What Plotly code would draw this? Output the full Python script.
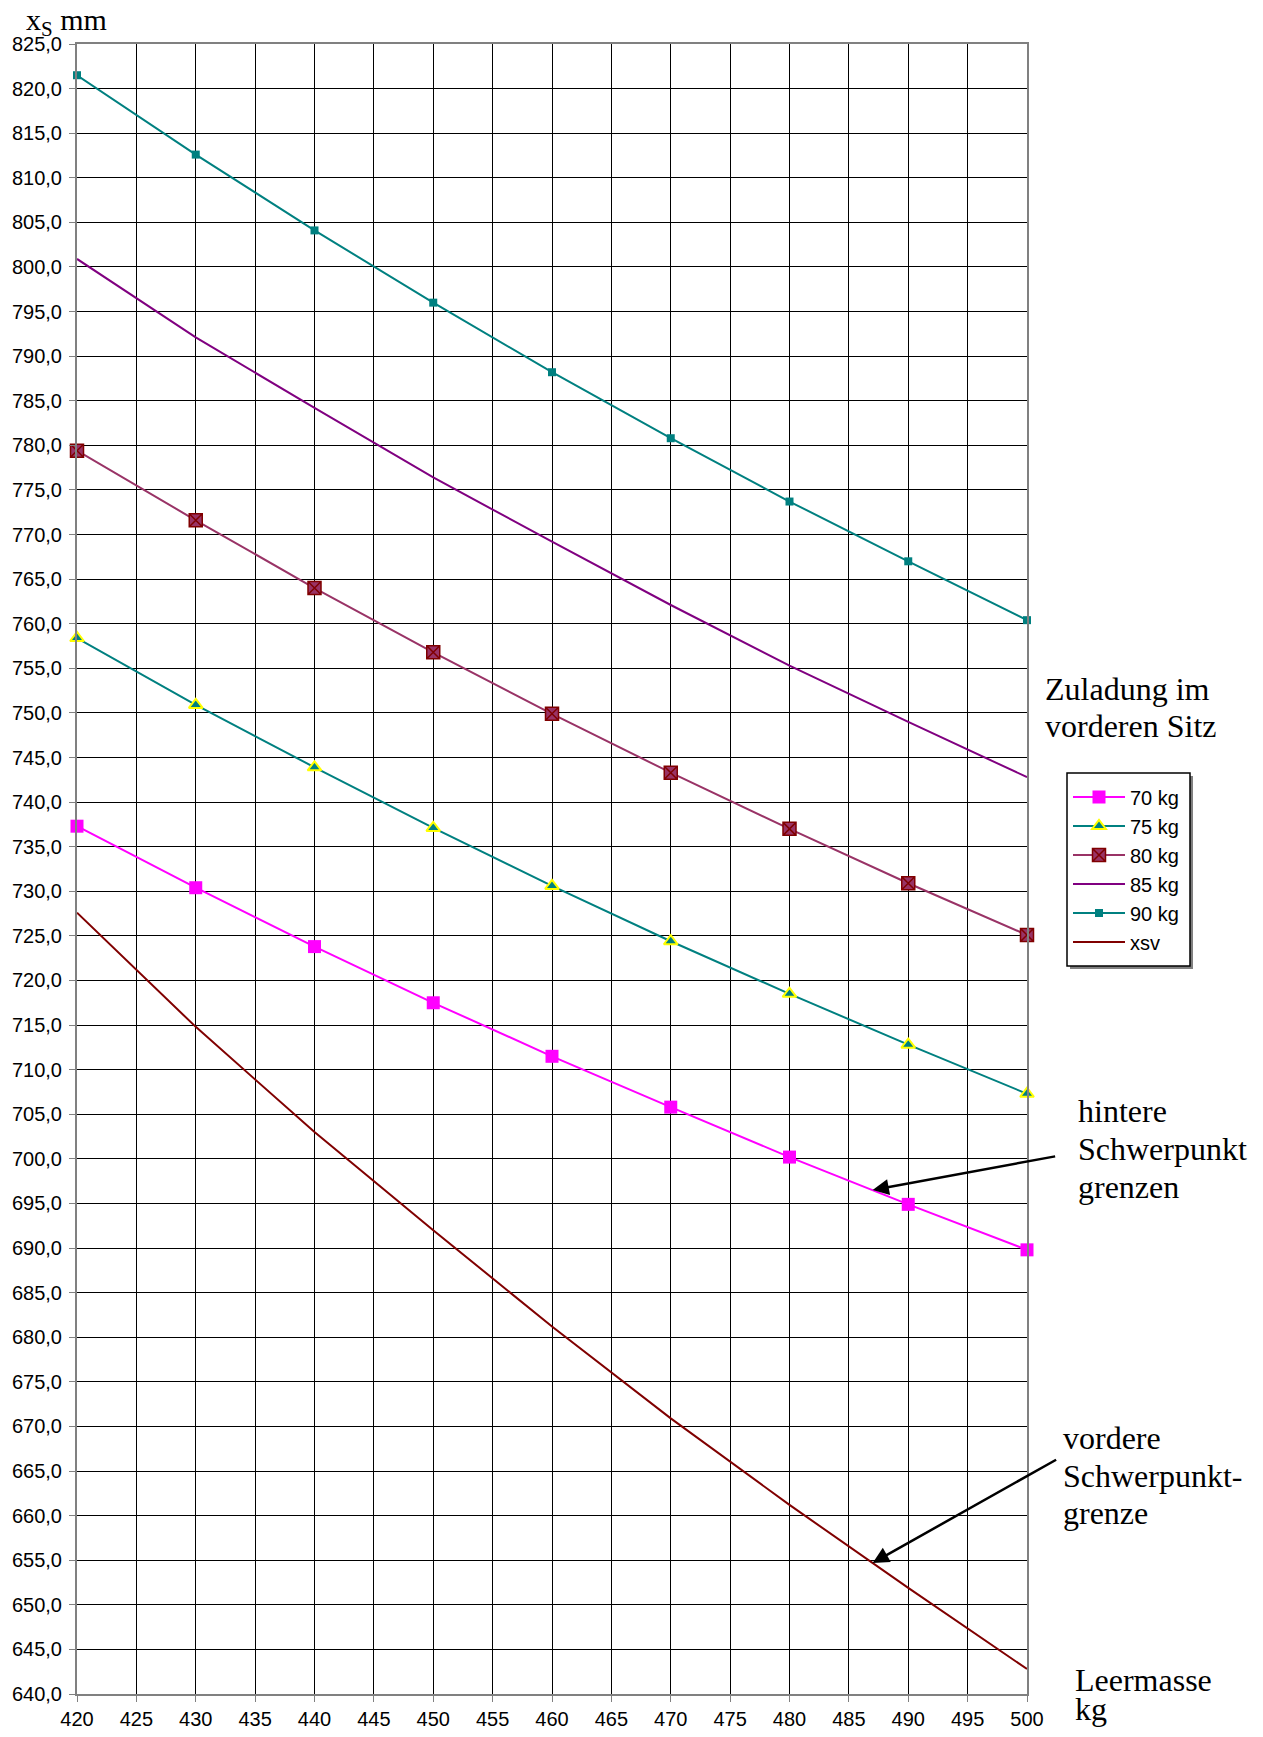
import plotly.graph_objects as go

leermasse = [420, 430, 440, 450, 460, 470, 480, 490, 500]
s70 = [737.3, 730.4, 723.8, 717.5, 711.5, 705.8, 700.2, 694.9, 689.8]
s75 = [758.4, 750.9, 743.9, 737.1, 730.6, 724.4, 718.5, 712.8, 707.3]
s80 = [779.4, 771.6, 764.0, 756.8, 749.9, 743.3, 737.0, 730.9, 725.1]
s85 = [800.9, 792.1, 784.2, 776.4, 769.2, 762.1, 755.3, 749.0, 742.8]
s90 = [821.5, 812.6, 804.1, 796.0, 788.2, 780.8, 773.7, 767.0, 760.4]
xsv = [727.6, 714.8, 703.0, 692.0, 681.2, 670.9, 661.2, 651.9, 642.8]

x_ticks = list(range(420, 501, 5))
y_ticks = list(range(640, 826, 5))

OFF = 8  # page body margin
W, H = 1263 - 2 * OFF, 1737 - 2 * OFF
# plot area in page coordinates: x 77..1027, y 44..1694
L = 77 - OFF
T = 44 - OFF
R = W - (1027 - OFF)
B = H - (1694 - OFF)
PW, PH = W - L - R, H - T - B

def px(x):
    return (x - OFF - L) / PW

def py(y):
    return (H - B - (y - OFF)) / PH

sans = "Arial, Liberation Sans, sans-serif"
serif = "Times New Roman, Liberation Serif, serif"

fig = go.Figure()
fig.add_trace(go.Scatter(x=leermasse, y=s70, name="70 kg", mode="lines+markers", cliponaxis=False,
                         line=dict(color="#FF00FF", width=2),
                         marker=dict(symbol="square", size=13, color="#FF00FF")))
fig.add_trace(go.Scatter(x=leermasse, y=s75, name="75 kg", mode="lines+markers", cliponaxis=False,
                         line=dict(color="#008080", width=2),
                         marker=dict(symbol="triangle-up", size=12, color="#008080",
                                     line=dict(color="#FFFF00", width=2))))
fig.add_trace(go.Scatter(x=leermasse, y=s80, name="80 kg", mode="lines+markers", cliponaxis=False,
                         line=dict(color="#993366", width=2),
                         marker=dict(symbol="square-x", size=13, color="#993366",
                                     line=dict(color="#800000", width=1.5))))
fig.add_trace(go.Scatter(x=leermasse, y=s85, name="85 kg", mode="lines", cliponaxis=False,
                         line=dict(color="#800080", width=2)))
fig.add_trace(go.Scatter(x=leermasse, y=s90, name="90 kg", mode="lines+markers", cliponaxis=False,
                         line=dict(color="#008080", width=2),
                         marker=dict(symbol="square", size=8, color="#008080")))
fig.add_trace(go.Scatter(x=leermasse, y=xsv, name="xsv", mode="lines", cliponaxis=False,
                         line=dict(color="#800000", width=2)))

text_lines = [
    ("Zuladung im", 1043, 689, "middle"), ("vorderen Sitz", 1043, 726, "middle"),
    ("hintere", 1076, 1111, "middle"), ("Schwerpunkt", 1076, 1149, "middle"),
    ("grenzen", 1076, 1187, "middle"),
    ("vordere", 1061, 1438, "middle"), ("Schwerpunkt-", 1061, 1476, "middle"),
    ("grenze", 1061, 1513, "middle"),
    ("Leermasse", 1073, 1680, "middle"), ("kg", 1073, 1729, "bottom"),
]
annotations = [dict(text="x<sub>S</sub> mm", x=px(24), y=py(22), xanchor="left", yanchor="middle",
                    xref="paper", yref="paper", showarrow=False,
                    font=dict(family=serif, size=30, color="black"))]
for t, x, y, ya in text_lines:
    annotations.append(dict(text=t, x=px(x), y=py(y), xanchor="left", yanchor=ya,
                            xref="paper", yref="paper", showarrow=False,
                            font=dict(family=serif, size=32, color="black")))

annotations += [
    dict(x=487.0, y=696.5, xref="x", yref="y", ax=184, ay=-34, axref="pixel", ayref="pixel",
         showarrow=True, arrowhead=2, arrowsize=1.3, arrowwidth=2.5, arrowcolor="black", text=""),
    dict(x=487.0, y=654.7, xref="x", yref="y", ax=185, ay=-104, axref="pixel", ayref="pixel",
         showarrow=True, arrowhead=2, arrowsize=1.3, arrowwidth=2.5, arrowcolor="black", text=""),
]

# legend frame with shadow (page coords 1067..1190 x 773..966)
shapes = [
    dict(type="rect", xref="paper", yref="paper", layer="above",
         x0=px(1070), x1=px(1193), y0=py(776), y1=py(969),
         fillcolor="#808080", line=dict(width=0)),
    dict(type="rect", xref="paper", yref="paper", layer="above",
         x0=px(1067), x1=px(1190), y0=py(773), y1=py(966),
         fillcolor="white", line=dict(color="black", width=1.5)),
]

fig.update_layout(
    width=W, height=H,
    margin=dict(l=L, r=R, t=T, b=B, pad=0, autoexpand=False),
    paper_bgcolor="white", plot_bgcolor="white",
    separators=",.",
    font=dict(family=sans, size=20, color="black"),
    annotations=annotations,
    shapes=shapes,
    legend=dict(x=px(1068), y=py(869.5), xanchor="left", yanchor="middle",
                bgcolor="rgba(0,0,0,0)", borderwidth=0,
                font=dict(family=sans, size=20, color="black"),
                itemwidth=52, tracegroupgap=0),
    showlegend=True,
)
fig.update_xaxes(range=[420, 500], tickmode="array", tickvals=x_ticks,
                 showgrid=True, gridcolor="black", gridwidth=1,
                 showline=True, linecolor="#808080", linewidth=2, mirror=True,
                 ticks="outside", ticklen=6, tickcolor="#808080", tickwidth=1,
                 automargin=False,
                 zeroline=False, tickfont=dict(family=sans, size=20))
fig.update_yaxes(range=[640, 825], tickmode="array", tickvals=y_ticks, tickformat=".1f",
                 showgrid=True, gridcolor="black", gridwidth=1,
                 showline=True, linecolor="#808080", linewidth=2, mirror=True,
                 ticks="outside", ticklen=6, tickcolor="#808080", tickwidth=1,
                 ticklabelstandoff=3, automargin=False,
                 zeroline=False, tickfont=dict(family=sans, size=20))

fig.write_html("out.html")
